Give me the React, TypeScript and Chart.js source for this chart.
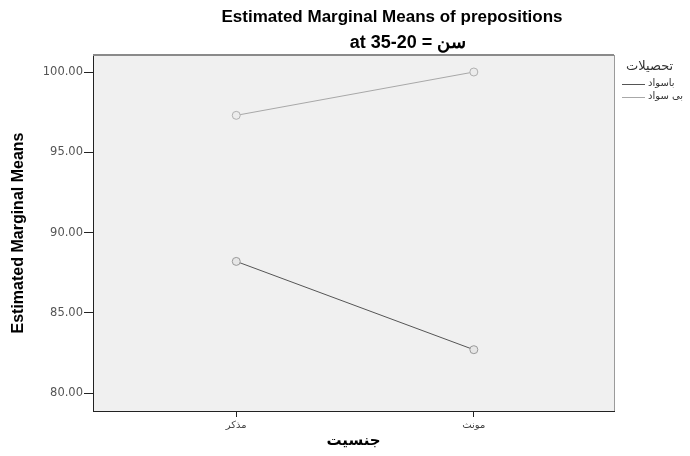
import React, { useEffect, useRef } from "react";
import { Chart, registerables } from "chart.js";

Chart.register(...registerables);

const categories = ["مذکر", "مونث"];
const seriesNames = ["باسواد", "بی سواد"];
const literateValues = [88.2, 82.7];
const illiterateValues = [97.3, 100.0];
const yTicks = [80, 85, 90, 95, 100];

const titleText = "Estimated Marginal Means of prepositions";
const subtitleText = "at 35-20 = سن";
const legendTitle = "تحصیلات";
const xTitle = "جنسیت";
const yTitle = "Estimated Marginal Means";

const seriesColors = ["#555555", "#a8a8a8"];

export default function App() {
  const ref = useRef<HTMLCanvasElement | null>(null);

  useEffect(() => {
    if (!ref.current) return;
    const bgPlugin = {
      id: "bgPlugin",
      beforeDraw(chart: any) {
        const { ctx, chartArea } = chart;
        ctx.save();
        ctx.fillStyle = "#ffffff";
        ctx.fillRect(0, 0, chart.width, chart.height);
        ctx.fillStyle = "#f0f0f0";
        ctx.fillRect(chartArea.left, chartArea.top, chartArea.right - chartArea.left, chartArea.bottom - chartArea.top);
        ctx.restore();
      },
      afterDraw(chart: any) {
        const { ctx, chartArea } = chart;
        ctx.save();
        ctx.strokeStyle = "#8a8a8a";
        ctx.lineWidth = 2;
        ctx.beginPath();
        ctx.moveTo(chartArea.left, chartArea.top);
        ctx.lineTo(chartArea.right, chartArea.top);
        ctx.stroke();
        ctx.strokeStyle = "#9a9a9a";
        ctx.lineWidth = 1;
        ctx.beginPath();
        ctx.moveTo(chartArea.right + 0.5, chartArea.top);
        ctx.lineTo(chartArea.right + 0.5, chartArea.bottom);
        ctx.stroke();
        ctx.fillStyle = "#000";
        ctx.textAlign = "center";
        ctx.textBaseline = "middle";
        ctx.font = "bold 17px 'Liberation Sans', Arial, sans-serif";
        ctx.fillText(titleText, 392, 17);
        ctx.font = "bold 18px 'Liberation Sans', Arial, sans-serif";
        ctx.fillText(subtitleText, 408, 43);
        ctx.font = "13px 'DejaVu Sans', sans-serif";
        ctx.textAlign = "left";
        ctx.fillStyle = "#333";
        ctx.fillText(legendTitle, 626, 67);
        const ys = [84, 97];
        seriesNames.forEach((n, i) => {
          ctx.strokeStyle = seriesColors[i];
          ctx.lineWidth = 1;
          ctx.beginPath();
          ctx.moveTo(622, ys[i] + 0.5);
          ctx.lineTo(645, ys[i] + 0.5);
          ctx.stroke();
          ctx.fillStyle = "#333";
          ctx.font = "10px 'DejaVu Sans', sans-serif";
          ctx.fillText(n, 648, ys[i] - 1);
        });
        ctx.restore();
      },
    };

    const chart = new Chart(ref.current, {
      type: "line",
      data: {
        datasets: [
          {
            label: seriesNames[0],
            data: literateValues.map((v, i) => ({ x: i, y: v })),
            borderColor: seriesColors[0],
            borderWidth: 1,
            pointRadius: 4,
            pointBackgroundColor: "#e6e6e6",
            pointBorderColor: "#9a9a9a",
            pointBorderWidth: 1,
          },
          {
            label: seriesNames[1],
            data: illiterateValues.map((v, i) => ({ x: i, y: v })),
            borderColor: seriesColors[1],
            borderWidth: 1,
            pointRadius: 4,
            pointBackgroundColor: "#ececec",
            pointBorderColor: "#b0b0b0",
            pointBorderWidth: 1,
          },
        ],
      },
      options: {
        animation: false,
        responsive: false,
        layout: { padding: { top: 55, right: 76, left: 0, bottom: 0 } },
        plugins: {
          legend: { display: false },
          tooltip: { enabled: false },
        },
        scales: {
          x: {
            type: "linear",
            min: -0.603,
            max: 1.59,
            afterBuildTicks: (scale: any) => {
              scale.ticks = categories.map((_, i) => ({ value: i }));
            },
            afterFit: (scale: any) => {
              scale.height = 45;
            },
            ticks: {
              callback: (v: any) => categories[Number(v)] ?? "",
              font: { size: 10, family: "'DejaVu Sans', sans-serif" },
              color: "#444",
              padding: 2,
              maxRotation: 0,
            },
            grid: {
              drawOnChartArea: false,
              drawTicks: true,
              tickLength: 6,
              color: "#222",
            },
            border: { display: true, color: "#222", width: 1 },
            title: {
              display: true,
              text: xTitle,
              font: { size: 15, weight: "bold", family: "'DejaVu Sans', sans-serif" },
              color: "#000",
              padding: { top: 0, bottom: 6 },
            },
          },
          y: {
            type: "linear",
            min: 78.88,
            max: 101.06,
            afterBuildTicks: (scale: any) => {
              scale.ticks = yTicks.map((v) => ({ value: v }));
            },
            afterFit: (scale: any) => {
              scale.width = 93;
            },
            ticks: {
              callback: (v: any) => Number(v).toFixed(2),
              font: { size: 11.5, family: "'DejaVu Sans', sans-serif" },
              color: "#555",
              padding: 1,
            },
            grid: {
              drawOnChartArea: false,
              drawTicks: true,
              tickLength: 9,
              color: "#222",
            },
            border: { display: true, color: "#222", width: 1 },
            title: {
              display: true,
              text: yTitle,
              font: { size: 16, weight: "bold", family: "'Liberation Sans Narrow', 'Liberation Sans', Arial, sans-serif" },
              color: "#000",
              padding: { top: 9, bottom: 0 },
            },
          },
        },
      },
      plugins: [bgPlugin],
    } as any);
    return () => chart.destroy();
  }, []);

  return (
    <div style={{ position: "fixed", left: 0, top: 0, width: 690, height: 456, background: "#fff" }}>
      <canvas ref={ref} width={690} height={456} style={{ width: 690, height: 456 }} />
    </div>
  );
}
